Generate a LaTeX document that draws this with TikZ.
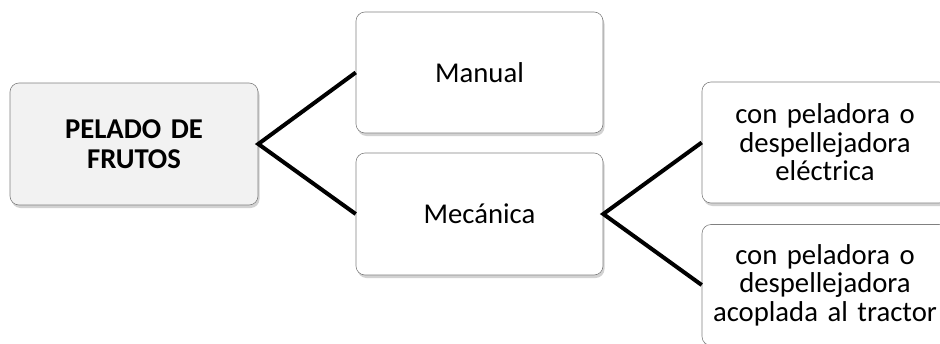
\documentclass[tikz,border=0pt]{standalone}
\usepackage{fontspec}
\setmainfont{Carlito}
\usetikzlibrary{shadows}
\begin{document}
\begin{tikzpicture}[x=1pt,y=-1pt,
  box/.style={draw=black!50, line width=0.6pt, rounded corners=9pt, fill=white,
    align=center, inner sep=0pt,
    font=\fontsize{28.7pt}{28.5pt}\selectfont,
    drop shadow={opacity=0.35, shadow xshift=1.5pt, shadow yshift=-3pt}},
  rootbox/.style={box, fill=black!5, font=\fontsize{28.7pt}{30.5pt}\selectfont\bfseries},
  link/.style={line width=4pt, black}]
  % canvas
  \useasboundingbox (0,0) rectangle (940,343);
  \fill[white] (0,0) rectangle (940,343);
  \clip (0,0) rectangle (940,343);

  % boxes
  \node[rootbox, minimum width=248pt, minimum height=122pt, text width=240pt] (root) at (134,144) {PELADO DE\\FRUTOS};
  \node[box, minimum width=247pt, minimum height=121pt, text width=240pt] (manual) at (479.5,72.5) {Manual};
  \node[box, minimum width=247pt, minimum height=122pt, text width=240pt] (mec) at (479.5,214) {Mecánica};
  \node[box, minimum width=246pt, minimum height=121pt, text width=240pt] (elec) at (825,142.5) {con peladora o\\despellejadora\\eléctrica};
  \node[box, minimum width=246pt, minimum height=121pt, text width=240pt] (trac) at (825,285) {con peladora o\\despellejadora\\acoplada al tractor};

  % connectors
  \draw[link] (manual.west) -- (root.east) -- (mec.west);
  \draw[link] (elec.west) -- (mec.east) -- (trac.west);
\end{tikzpicture}
\end{document}
